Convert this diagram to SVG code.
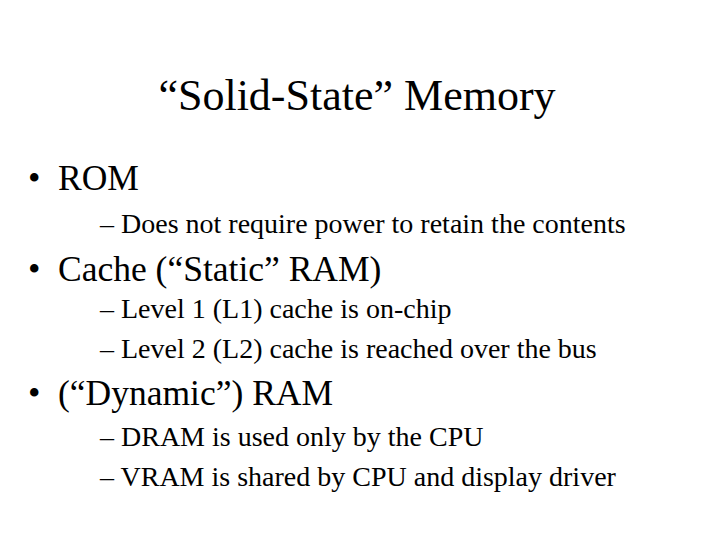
<svg xmlns="http://www.w3.org/2000/svg" width="720" height="540" viewBox="0 0 720 540">
<style>
text{font-family:"Liberation Serif","Times New Roman",serif;fill:#000}
.t{font-size:44px}
.b{font-size:35.5px}
.s{font-size:28px}
</style>
<rect width="720" height="540" fill="#fff"/>
<text class="t" x="357" y="110" text-anchor="middle">“Solid-State” Memory</text>
<text class="b" x="28" y="190">•</text><text class="b" x="58" y="190">ROM</text>
<text class="s" x="100" y="233">– Does not require power to retain the contents</text>
<text class="b" x="28" y="281">•</text><text class="b" x="58" y="281">Cache (“Static” RAM)</text>
<text class="s" x="100" y="318">– Level 1 (L1) cache is on-chip</text>
<text class="s" x="100" y="358">– Level 2 (L2) cache is reached over the bus</text>
<text class="b" x="28" y="405">•</text><text class="b" x="58" y="405">(“Dynamic”) RAM</text>
<text class="s" x="100" y="446">– DRAM is used only by the CPU</text>
<text class="s" x="100" y="486">– VRAM is shared by CPU and display driver</text>
</svg>
